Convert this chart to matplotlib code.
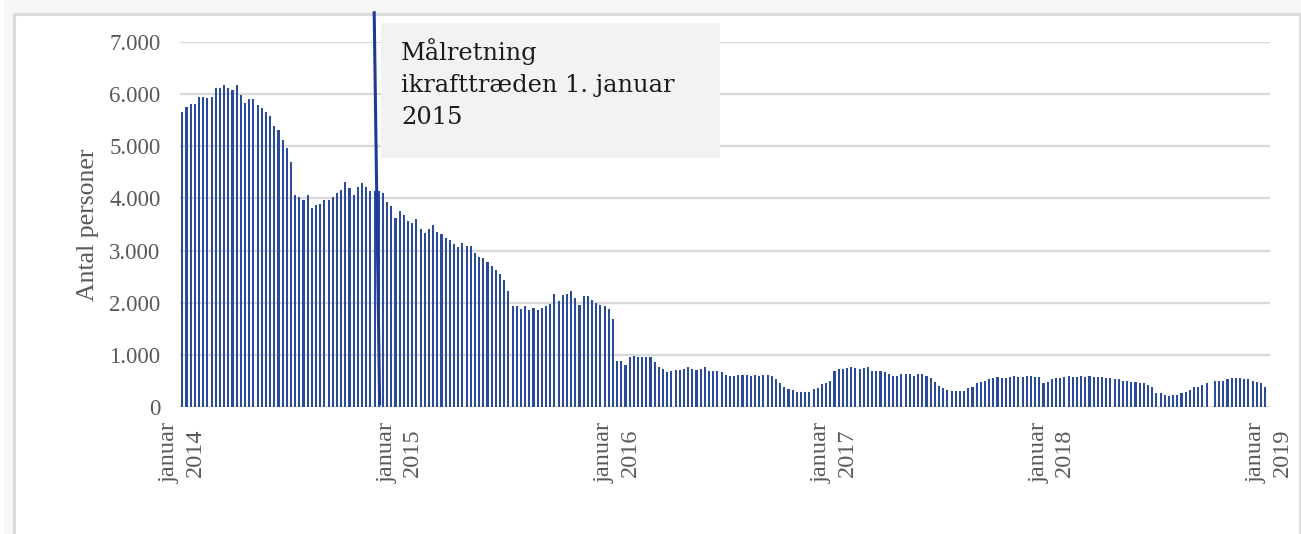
import matplotlib
matplotlib.use("Agg")
import matplotlib.pyplot as plt
import matplotlib.patches as mpatches
from matplotlib.ticker import FuncFormatter
import numpy as np

# Ugentlige værdier, januar 2014 - december 2018
antal_2014 = [5660, 5760, 5810, 5810, 5950, 5950, 5920, 5950, 6120, 6120,
              6170, 6120, 6080, 6170, 5980, 5835, 5905, 5905, 5785, 5730,
              5660, 5585, 5390, 5310, 5120, 4965, 4700, 4070, 4025, 3975,
              4070, 3825, 3870, 3895, 3975, 3975, 4025, 4095, 4170, 4310,
              4195, 4070, 4215, 4290, 4220, 4145, 4145, 4145, 4095, 3930,
              3850, 3630]
antal_2015 = [3755, 3683, 3562, 3537, 3606, 3410, 3340, 3410, 3486, 3359,
              3314, 3244, 3194, 3117, 3073, 3143, 3092, 3092, 2952, 2876,
              2851, 2781, 2705, 2635, 2559, 2444, 2216, 1930, 1930, 1879,
              1930, 1854, 1905, 1854, 1905, 1930, 1975, 2171, 2025, 2146,
              2171, 2216, 2095, 1956, 2121, 2121, 2051, 2000, 1956, 1930,
              1879, 1683]
antal_2016 = [891, 891, 814, 962, 987, 962, 962, 962, 962, 865,
              763, 737, 667, 692, 718, 718, 737, 763, 737, 718,
              737, 763, 692, 692, 692, 667, 615, 590, 590, 615,
              615, 615, 590, 615, 590, 615, 615, 590, 538, 468,
              391, 346, 321, 295, 295, 295, 295, 346, 372, 442,
              468, 494]
antal_2017 = [699, 724, 724, 750, 776, 750, 724, 750, 776, 699,
              699, 699, 673, 628, 603, 603, 628, 628, 628, 603,
              628, 628, 603, 551, 481, 404, 359, 333, 308, 308,
              308, 308, 359, 385, 455, 481, 506, 532, 551, 577,
              551, 551, 577, 603, 577, 577, 603, 603, 577, 577,
              455, 481]
antal_2018 = [532, 551, 551, 577, 603, 577, 577, 603, 577, 603,
              577, 577, 577, 551, 551, 532, 532, 506, 506, 481,
              481, 455, 455, 429, 385, 263, 263, 237, 212, 237,
              237, 263, 282, 333, 385, 385, 429, 455, np.nan, 506,
              506, 506, 532, 551, 551, 551, 532, 532, 506, 481,
              455, 385]

aar = ["2014", "2015", "2016", "2017", "2018", "2019"]
uger_pr_aar = 52
annotation = "Målretning\nikrafttræden 1. januar\n2015"

values = np.array(antal_2014 + antal_2015 + antal_2016 + antal_2017 + antal_2018, dtype=float)
x = np.arange(len(values))

W, H = 1301, 534
fig = plt.figure(figsize=(W / 100, H / 100), dpi=100)
fig.patch.set_facecolor("#f6f7f7")

# Hvid ramme om figuren
fig.patches.append(mpatches.Rectangle((0, 0), 4 / W, 1, transform=fig.transFigure,
                                      facecolor="white", edgecolor="none", zorder=-2))
fig.patches.append(mpatches.Rectangle((13.5 / W, -0.05), (1299.5 - 13.5) / W, 1.05 - 13.5 / H,
                                      transform=fig.transFigure, facecolor="white",
                                      edgecolor="#dcdcdc", linewidth=2.2, zorder=-1))

ax = fig.add_axes([180 / W, 1 - 407 / H, (1269.5 - 180) / W, (407 - 42) / H])
ax.set_facecolor("none")

ax.bar(x, values, width=0.5, color="#2b4c9c", linewidth=0, zorder=2)

ax.set_xlim(-0.55, 260.05)
ax.set_ylim(0, 7000)
ax.set_yticks(range(0, 7001, 1000))
ax.yaxis.set_major_formatter(FuncFormatter(lambda v, p: f"{int(v):,}".replace(",", ".")))
ax.grid(axis="y", color="#d9d9d9", linewidth=1.7, zorder=0)
ax.set_axisbelow(True)
for s in ax.spines.values():
    s.set_visible(False)

ticks = [i * uger_pr_aar for i in range(len(aar))]
ax.set_xticks(ticks)
ax.set_xticklabels([f"januar\n{a}" for a in aar], rotation=90, va="top", ha="center",
                   linespacing=1.3, fontsize=17.5)
ax.tick_params(axis="both", length=0, labelcolor="#595959")
ax.tick_params(axis="y", labelsize=16.5, pad=14)
ax.tick_params(axis="x", pad=11)
for lab in ax.get_xticklabels() + ax.get_yticklabels():
    lab.set_fontfamily("Liberation Serif")

fig.text(88 / W, 1 - 225 / H, "Antal personer", rotation=90, ha="center", va="center",
         fontsize=18.5, color="#595959", family="Liberation Serif")

# Lodret linje for ikrafttræden
ax.plot([45.9, 47.2], [7560, 60], color="#1f3a93", linewidth=2.2, clip_on=False, zorder=4)

# Tekstboks
fig.patches.append(mpatches.Rectangle((381 / W, 1 - 158 / H), (720 - 381) / W, (158 - 23) / H,
                                      transform=fig.transFigure, facecolor="#f2f2f2",
                                      edgecolor="none", zorder=5))
fig.text(401 / W, 1 - 38 / H, annotation, ha="left", va="top", fontsize=17.4,
         family="DejaVu Serif", color="#1a1a1a", linespacing=1.5, zorder=6)

plt.savefig("out.png", dpi=100, facecolor=fig.get_facecolor())
